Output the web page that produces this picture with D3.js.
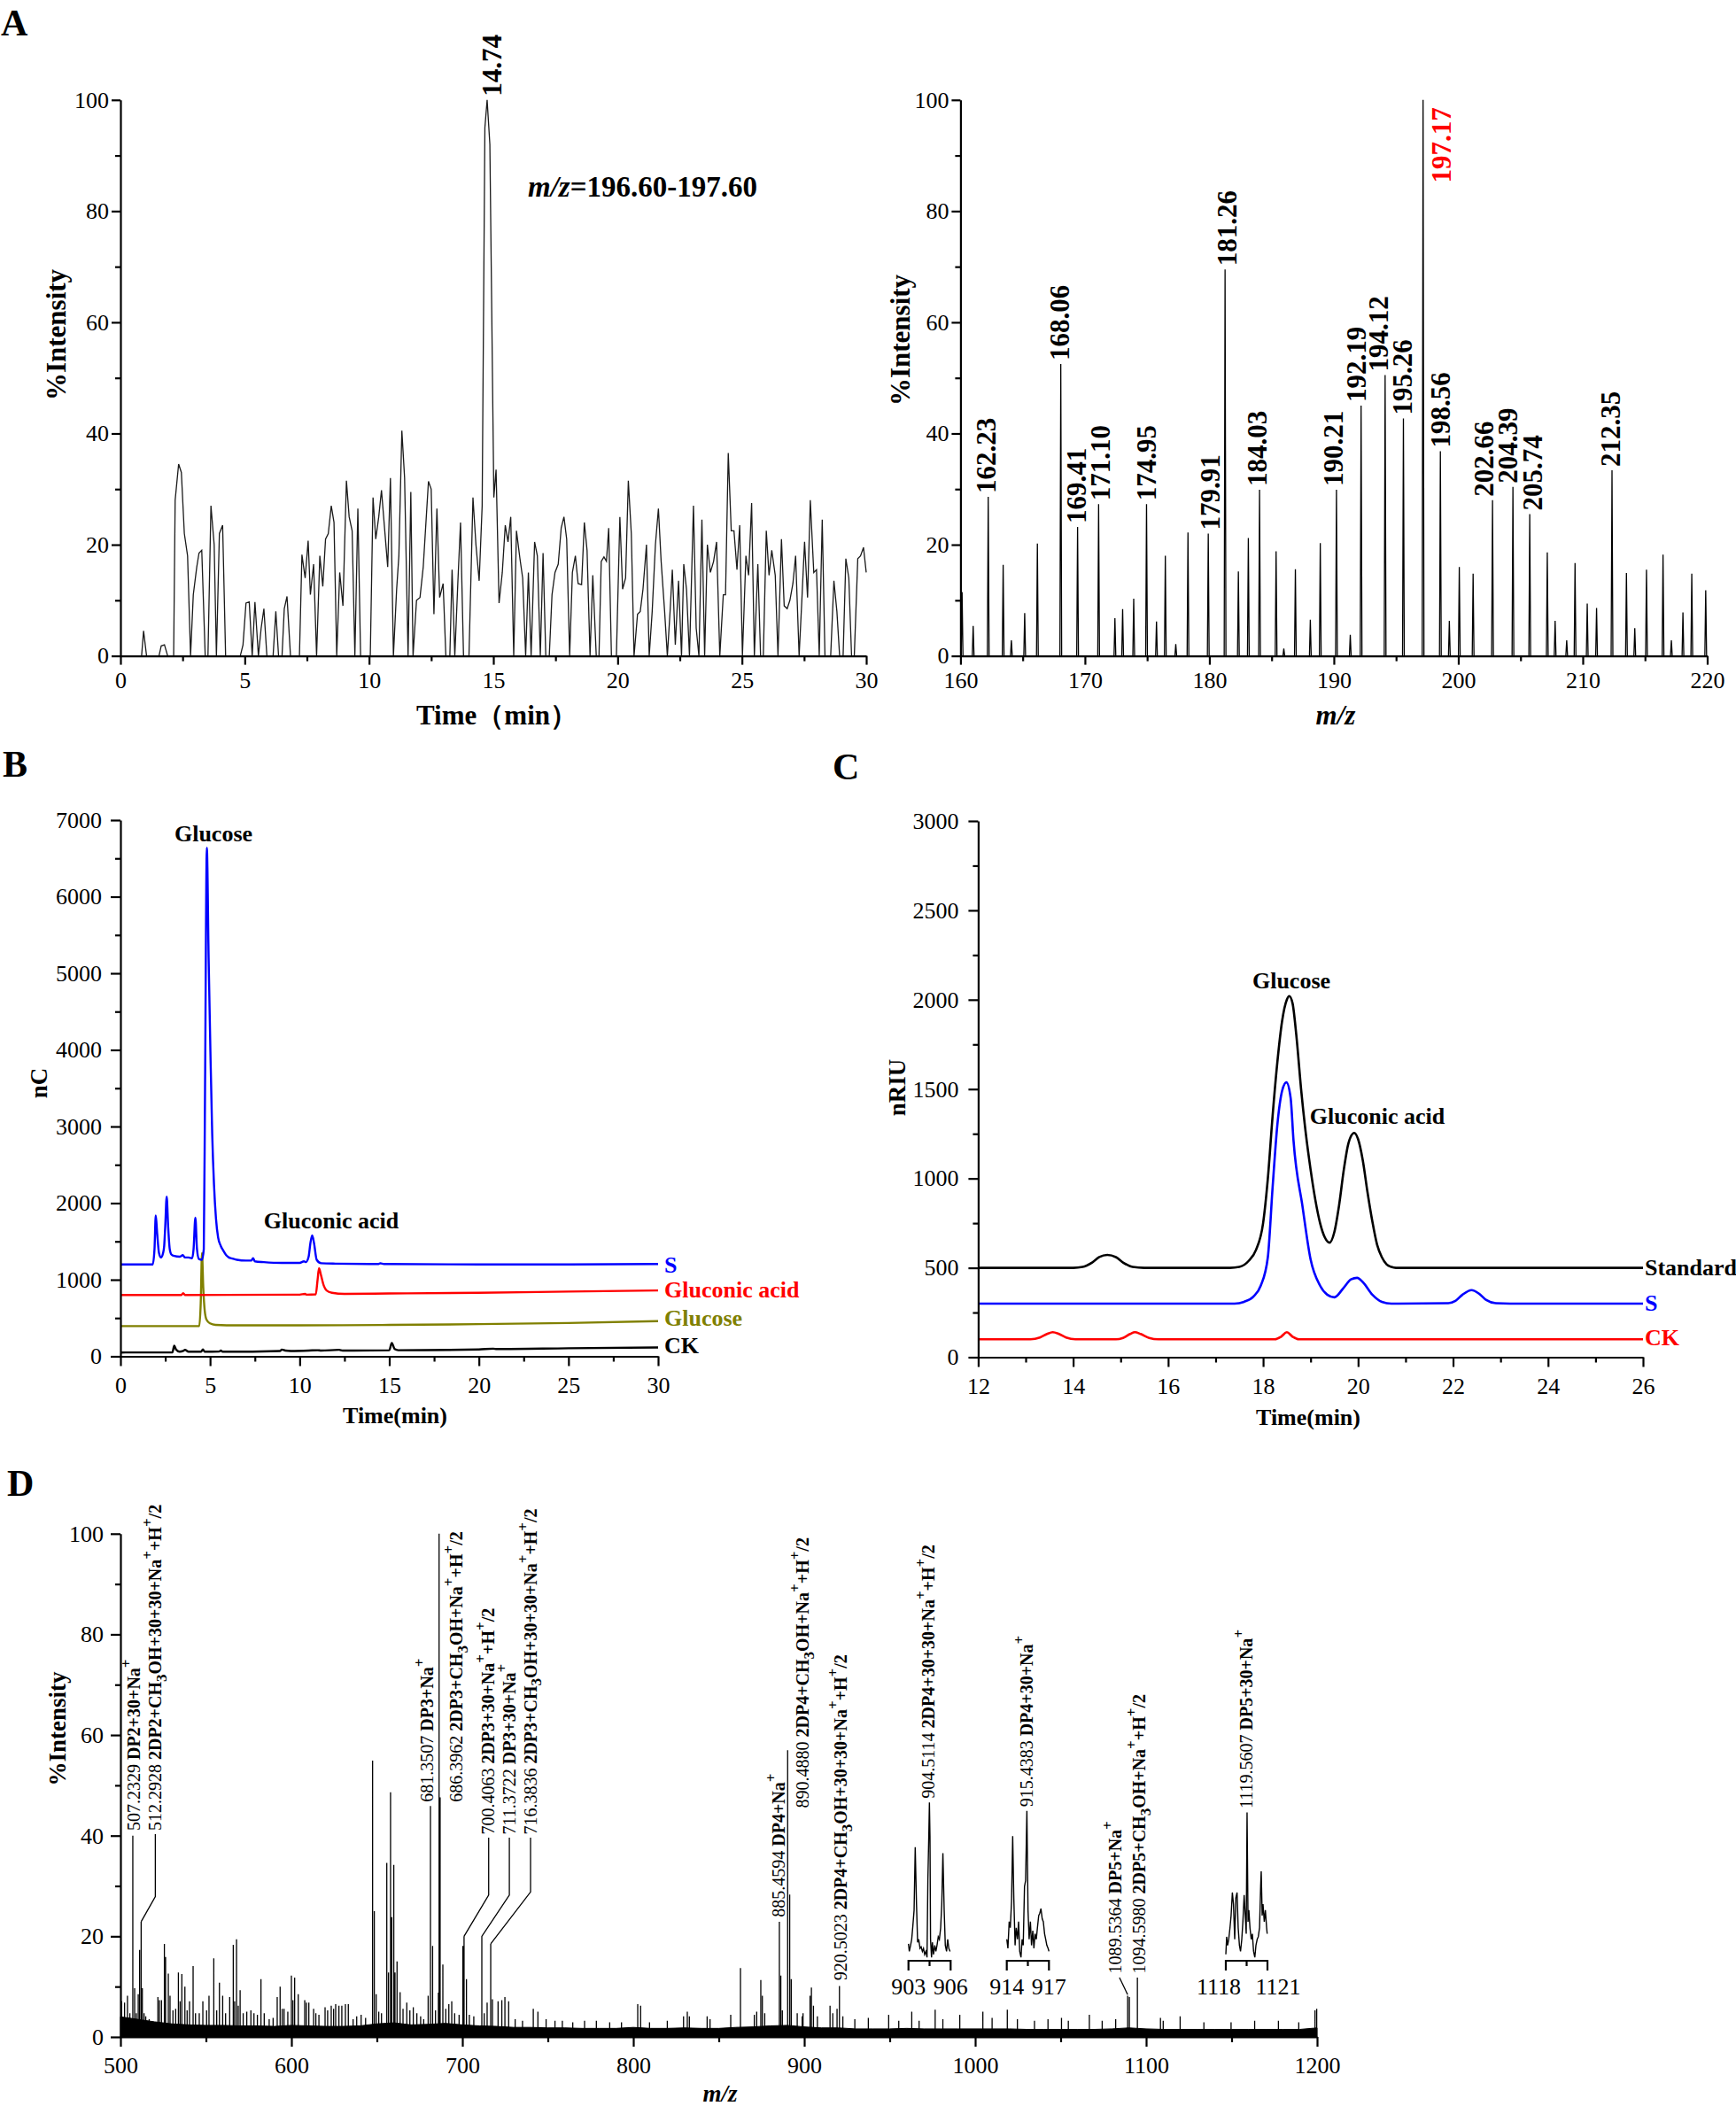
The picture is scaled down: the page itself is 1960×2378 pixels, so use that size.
<!DOCTYPE html>
<html><head><meta charset="utf-8">
<script src="https://cdn.jsdelivr.net/npm/d3@7"></script>
<style>
body{margin:0;background:#fff}
svg{display:block}
svg text{font-family:"Liberation Serif","Times New Roman",serif !important;white-space:pre}
</style></head><body>
<svg id="fig" width="1960" height="2378"></svg>
<script>
// ---------------- DATA ----------------
// Panel A (left): extracted ion chromatogram, [time(min), %intensity]
const eic = [[0,0],[0.85,0],[0.93,4.5],[1.05,0],[1.55,0],[1.64,1.8],[1.77,2],[1.9,0],[2.14,0],[2.2,28],[2.34,34.5],[2.45,33],[2.57,22],[2.7,18],[2.82,0],[2.93,11],[3.07,16],[3.16,18.5],[3.27,19],[3.41,0],[3.52,0],[3.64,27],[3.77,20],[3.86,0],[3.98,22],[4.11,23.5],[4.23,0],[4.82,0],[4.93,2],[5.05,9.5],[5.18,9.7],[5.3,0],[5.41,9.7],[5.55,0],[5.66,5],[5.77,8.5],[5.89,0],[6.14,0],[6.25,8],[6.36,0],[6.5,0],[6.59,8.5],[6.7,10.7],[6.84,0],[7.2,0],[7.3,18.2],[7.43,14],[7.55,20.7],[7.64,11],[7.77,16.5],[7.89,0],[8.02,18],[8.14,12.5],[8.25,21],[8.36,22],[8.48,27],[8.59,24],[8.7,0],[8.82,15],[8.95,9],[9.09,31.5],[9.2,25],[9.32,22.5],[9.43,0],[9.55,26.5],[9.66,0],[10.05,0],[10.16,28.5],[10.27,21],[10.39,25],[10.5,29.8],[10.75,16],[10.86,32],[10.98,0],[11.11,12],[11.2,18],[11.32,40.5],[11.43,32],[11.57,0],[11.68,29.5],[11.77,0],[11.91,10],[12.05,10.5],[12.18,16],[12.39,31.4],[12.5,30],[12.61,7.5],[12.73,26.5],[12.84,10.5],[12.98,13],[13.09,0],[13.25,0],[13.34,15.5],[13.45,0],[13.57,13],[13.68,24],[13.8,0],[14.02,0],[14.18,28.5],[14.3,20],[14.43,13.5],[14.55,27],[14.66,95],[14.75,100],[14.86,92],[15.02,28.5],[15.11,33.5],[15.23,9.5],[15.36,15],[15.48,23.5],[15.59,20.5],[15.7,25],[15.82,0],[15.93,22.5],[16.07,17.5],[16.18,14],[16.3,0],[16.41,15],[16.52,0],[16.66,20.5],[16.77,18],[16.89,0],[17.0,18.5],[17.11,0],[17.25,0],[17.36,11],[17.48,15],[17.61,16.5],[17.73,23],[17.84,25],[17.95,21],[18.07,0],[18.18,15],[18.3,18],[18.41,13],[18.55,12.8],[18.66,24],[18.77,19],[18.89,0],[19.0,14.5],[19.14,0],[19.25,0],[19.34,17],[19.45,17.8],[19.55,17],[19.64,23],[19.75,0],[19.95,0],[20.09,25],[20.2,12],[20.32,14],[20.43,31.5],[20.55,22],[20.66,0],[20.8,7.5],[20.91,8],[21.02,12],[21.16,20],[21.27,0],[21.39,8],[21.52,20],[21.64,26.5],[21.75,17],[21.89,8],[22.0,0],[22.11,8],[22.2,15.5],[22.32,2],[22.45,13.5],[22.57,0],[22.66,16.5],[22.77,12],[22.89,0],[23.05,27],[23.16,5],[23.27,0],[23.39,24.5],[23.5,0],[23.61,20],[23.73,15],[23.86,17],[23.98,20.5],[24.11,0],[24.25,11],[24.34,11],[24.45,36.5],[24.57,22.5],[24.68,22.5],[24.8,15.5],[24.91,23.5],[25.02,0],[25.16,18],[25.27,14.5],[25.39,27.5],[25.5,0],[25.64,16.5],[25.75,0],[25.86,0],[25.98,22.5],[26.09,14.5],[26.2,19],[26.34,14.5],[26.45,0],[26.59,21],[26.7,9],[26.82,8.5],[26.93,10],[27.05,13],[27.16,18],[27.3,0],[27.41,10],[27.52,20.5],[27.64,10.5],[27.75,28],[27.89,15],[28.0,15.5],[28.11,0],[28.23,24.5],[28.34,0],[28.57,0],[28.7,13.5],[28.82,8],[28.93,0],[29.07,0],[29.18,17.5],[29.3,14],[29.41,0],[29.52,0],[29.66,17.5],[29.77,18],[29.89,19.5],[30.0,15]];

// Panel A (right): mass spectrum sticks [m/z, %intensity]
const msPeaks = [[160.13,11.5],[161.02,5.4],[162.23,28.6],[163.43,16.4],[164.09,2.8],[165.16,7.7],[166.18,20.2],[168.06,52.5],[169.41,23.2],[171.10,27.3],[172.41,6.8],[173.03,8.4],[173.92,10.3],[174.95,27.3],[175.75,6.2],[176.46,18],[177.30,2.1],[178.28,22.2],[179.91,22],[181.26,69.5],[182.33,15.2],[183.13,21.2],[184.03,29.9],[185.36,18.8],[185.98,1.3],[186.91,15.6],[188.11,6.5],[188.91,20.3],[190.21,29.9],[191.32,3.8],[192.19,45],[194.12,50.5],[195.59,42.7],[197.17,100],[198.56,36.8],[199.28,6.3],[200.08,16],[201.19,14.8],[202.75,28],[204.39,30.4],[205.74,25.5],[207.15,18.6],[207.78,6.3],[208.71,2.8],[209.38,16.7],[210.36,9.4],[211.11,8.6],[212.35,33.4],[213.51,14.9],[214.18,5],[215.12,15.5],[216.45,18.2],[217.12,2.8],[218.05,7.8],[218.76,14.8],[219.88,11.8]];
// labelled sticks: [stick m/z, label text]
const msLabels = [[162.23,"162.23"],[168.06,"168.06"],[169.41,"169.41"],[171.10,"171.10"],[174.95,"174.95"],[179.91,"179.91"],[181.26,"181.26"],[184.03,"184.03"],[190.21,"190.21"],[192.19,"192.19"],[194.12,"194.12"],[195.59,"195.26"],[197.17,"197.17"],[198.56,"198.56"],[202.75,"202.66"],[204.39,"204.39"],[205.74,"205.74"],[212.35,"212.35"]];

// Panel B: HPAEC-PAD traces [time(min), nC]
const bS = [[0,1200],[1.8,1200],[1.9,1400],[1.97,1840],[2.05,1600],[2.15,1350],[2.26,1290],[2.38,1350],[2.44,1440],[2.5,1700],[2.58,2085],[2.66,1700],[2.75,1400],[2.84,1330],[3.0,1310],[3.3,1300],[3.48,1320],[3.6,1290],[3.8,1290],[4.0,1280],[4.08,1400],[4.18,1810],[4.27,1400],[4.38,1270],[4.55,1260],[4.65,1400],[4.72,3500],[4.82,6640],[4.92,5200],[5.02,3970],[5.12,2900],[5.22,2240],[5.33,1800],[5.45,1550],[5.6,1440],[5.74,1380],[5.9,1320],[6.05,1290],[6.2,1280],[6.5,1260],[7.0,1250],[7.3,1250],[7.4,1280],[7.5,1240],[8.0,1230],[9.0,1220],[10.0,1220],[10.24,1240],[10.35,1230],[10.5,1300],[10.6,1480],[10.7,1580],[10.8,1480],[10.95,1260],[11.2,1215],[12,1210],[14.4,1205],[14.5,1215],[14.7,1205],[20,1200],[25,1200],[30,1205]];
const bGluconic = [[0,800],[3.4,800],[3.5,825],[3.6,800],[10,805],[10.3,815],[10.4,805],[10.9,810],[11.0,1000],[11.08,1150],[11.2,1050],[11.35,920],[11.5,860],[11.8,830],[12.5,815],[15,820],[20,830],[25,845],[30,860]];
const bGlucose = [[0,395],[4.4,395],[4.48,700],[4.55,1350],[4.62,900],[4.7,600],[4.8,480],[5.0,430],[5.3,410],[6,405],[10,405],[15,410],[20,420],[25,435],[30,460]];
const bCK = [[0,50],[2.9,52],[3.0,140],[3.1,90],[3.3,60],[3.5,70],[3.6,85],[3.8,60],[4.5,60],[4.6,90],[4.7,60],[5.5,62],[5.6,75],[5.7,60],[8.9,70],[9.0,88],[9.2,75],[9.5,70],[10.5,75],[11,80],[11.2,75],[12.2,85],[12.4,75],[15.0,80],[15.14,175],[15.3,95],[15.5,80],[20,90],[20.8,100],[21,95],[25,105],[30,115]];

// Panel C: HPLC-RID traces [time(min), nRIU]
const cStd = [[12,500],[14.0,500],[14.2,505],[14.4,530],[14.55,560],[14.72,572],[14.9,560],[15.05,530],[15.25,505],[15.5,500],[17.3,500],[17.5,505],[17.7,540],[17.85,600],[18.0,750],[18.1,1000],[18.2,1350],[18.3,1650],[18.4,1880],[18.5,2000],[18.55,2020],[18.62,1980],[18.7,1800],[18.8,1500],[18.9,1250],[19.0,1050],[19.1,880],[19.2,750],[19.3,670],[19.4,641],[19.5,700],[19.6,850],[19.7,1050],[19.8,1200],[19.92,1255],[20.0,1220],[20.1,1100],[20.2,920],[20.3,760],[20.4,630],[20.5,560],[20.6,520],[20.7,505],[20.8,500],[26,500]];
const cS = [[12,300],[17.4,300],[17.6,310],[17.8,340],[17.95,400],[18.1,560],[18.2,950],[18.3,1300],[18.4,1490],[18.49,1538],[18.58,1450],[18.64,1213],[18.83,843],[19.0,547],[19.2,400],[19.35,350],[19.5,335],[19.7,390],[19.85,435],[19.98,444],[20.1,420],[20.3,350],[20.5,310],[20.7,300],[21.9,302],[22.05,315],[22.2,350],[22.39,375],[22.55,355],[22.7,320],[22.9,302],[23.2,300],[26,300]];
const cCK = [[12,100],[13.1,100],[13.3,110],[13.45,130],[13.57,140],[13.7,130],[13.85,110],[14.05,100],[14.9,100],[15.05,108],[15.2,130],[15.3,140],[15.42,130],[15.6,108],[15.8,100],[18.25,100],[18.38,115],[18.5,140],[18.62,115],[18.75,100],[26,100]];

// Panel D: ESI-MS spectrum sticks [m/z, %intensity]
const dPeaks = [[500.7,7.1],[502.4,6.8],[504.1,8.2],[505.5,4.7],[507.23,40],[508.3,9.7],[509.3,4.7],[510.4,8.5],[511.2,17.3],[512.1,22.9],[512.8,9.7],[513.8,4.7],[514.8,4.1],[516.8,3.5],[521.9,7.9],[522.8,7.3],[524.0,7.3],[525.7,18.5],[526.4,15.9],[528.0,12.6],[529.0,8.2],[530.7,5.3],[532.3,5.6],[533.9,12.8],[534.9,7.1],[535.9,12.5],[537.7,10],[539.0,5.3],[540.4,7.1],[542.5,14.1],[543.9,4.7],[546.1,4.7],[548.2,7.1],[550.4,5.3],[551.8,8.2],[554.6,15.6],[556.3,5.3],[557.9,10.8],[559.8,8.2],[561.5,4.7],[563.9,7.9],[566.0,18.3],[566.8,7.1],[567.9,19.4],[568.9,6.2],[570.0,9.3],[571.8,4.7],[573.9,5],[576.3,5.3],[578.1,4.7],[580.1,4.4],[582.2,11.5],[584.1,4.7],[587.0,3.5],[589.3,3.8],[591.7,7.9],[593.4,10],[594.6,5.6],[595.7,5.6],[597.9,5],[600.0,12.2],[600.9,7.3],[601.9,11.8],[604.0,8.5],[607.8,7.3],[608.8,6.8],[610.2,6.8],[613.0,5.6],[614.3,4.7],[616.1,4.4],[619.7,5.9],[621.2,5.3],[623.3,6.2],[624.7,5.6],[625.9,6.5],[627.8,6.2],[629.5,6.2],[631.6,6.5],[633.3,6.5],[636.1,3.5],[638.2,4.1],[640.8,4.4],[643.4,3.8],[647.5,54.9],[648.5,25],[649.6,8.5],[651.1,5],[652.7,4.7],[655.8,34.6],[656.8,12.8],[658.0,48.6],[658.7,23.8],[659.9,34.2],[660.6,12.8],[661.8,15],[663.6,8.9],[665.3,5.6],[667.5,6.8],[669.3,5.3],[671.3,5.9],[673.4,4.7],[675.6,4.1],[677.4,3.5],[680.0,8.2],[681.35,45.9],[682.6,18.1],[684.3,5.3],[686.0,8.8],[686.4,100],[687.0,47.6],[688.6,14.4],[690.3,5.6],[692.1,6.5],[693.8,7.1],[695.5,4.7],[698.1,4.4],[700.3,18.1],[701.0,20],[702.4,11.5],[704.1,4.4],[706.7,4.1],[711.4,7.9],[712.8,4.7],[714.5,6.8],[716.6,18.5],[717.6,7.5],[720.9,7.1],[723.1,7.3],[724.9,7.9],[727.1,7.1],[730.9,3.5],[735.2,3.2],[741.5,5.6],[744.2,5],[749.0,3.5],[754.2,3.2],[758.5,3.2],[764.6,2.9],[771.5,3.2],[778.4,3.2],[786.2,2.9],[793.1,2.9],[802.6,6.5],[804.3,6.2],[809.5,2.9],[819.9,3.2],[829.4,4.1],[831.6,5],[832.8,4.1],[843.2,4.1],[844.9,3.5],[857.0,4.4],[862.7,13.7],[870.8,4.4],[872.2,5],[874.6,11.3],[875.5,8.2],[876.9,4.7],[885.46,22.9],[886.3,12.2],[887.2,5.3],[890.3,57],[891.5,28.3],[892.4,11.5],[895.9,4.7],[898.8,4.1],[899.3,4.7],[903.4,8.2],[904.2,9.8],[905.4,6.2],[907.7,4.1],[915.1,6.2],[916.7,4.7],[919.2,5.6],[920.6,10.1],[922.6,4.1],[929.6,3.5],[937.5,3.8],[949.4,4.4],[955.3,3.2],[962.9,5],[967.2,3.2],[976.6,5.4],[981.1,3.5],[991.0,4.4],[1004.5,5],[1009.9,3.8],[1018.8,5.4],[1024.7,3.5],[1034.7,3.2],[1042.6,3.5],[1050.5,3.8],[1054.5,3.2],[1066.8,4.4],[1074.3,3.2],[1082.2,3.5],[1089.2,8.2],[1090.2,7.9],[1094.9,11.8],[1108.4,3.8],[1110.0,3.2],[1119.9,4.1],[1133.8,2.9],[1149.7,2.9],[1163.5,3.2],[1177.4,3.2],[1189.3,2.9],[1198.8,5.3],[1199.8,5.6]];
// dense noise floor envelope [m/z, %intensity]
const dNoise = [[500,4],[510,3.5],[520,3],[530,2.6],[540,2.4],[550,2.3],[560,2.3],[570,2.2],[580,2.2],[590,2.1],[600,2.3],[610,2.2],[620,2.1],[630,2.1],[640,2.2],[650,2.6],[660,2.8],[670,2.4],[680,2.5],[690,2.7],[700,2.4],[710,2.2],[720,2.1],[730,1.9],[740,1.9],[750,1.8],[760,1.8],[770,1.7],[780,1.7],[790,1.7],[800,1.9],[810,1.7],[820,1.7],[830,1.8],[840,1.7],[850,1.7],[860,1.9],[870,2.0],[880,2.2],[890,2.3],[900,2.0],[910,1.8],[920,1.8],[930,1.6],[940,1.6],[950,1.6],[960,1.7],[970,1.6],[980,1.6],[990,1.6],[1000,1.6],[1010,1.6],[1020,1.6],[1030,1.5],[1040,1.5],[1050,1.5],[1060,1.5],[1070,1.5],[1080,1.6],[1090,1.8],[1100,1.6],[1110,1.5],[1120,1.5],[1130,1.5],[1140,1.5],[1150,1.5],[1160,1.5],[1170,1.5],[1180,1.5],[1190,1.5],[1200,1.8]];
// zoom insets
const inset1 = [[903.00,18.5],[903.06,17.0],[903.15,18.2],[903.23,19.4],[903.31,22],[903.40,25.2],[903.48,37.7],[903.57,26.4],[903.65,18.8],[903.73,19.4],[903.82,17.6],[903.90,17.9],[903.99,17.0],[904.07,17.6],[904.15,16.4],[904.24,17.0],[904.32,15.8],[904.38,31.1],[904.45,40.5],[904.49,46.6],[904.53,39.9],[904.57,19.4],[904.64,15.8],[904.70,18.8],[904.78,16.4],[904.87,18.2],[904.95,17.0],[905.03,18.2],[905.12,19.9],[905.20,19.4],[905.29,21.7],[905.37,26.4],[905.45,36.5],[905.54,25.2],[905.62,18.2],[905.71,17.0],[905.79,19.4],[905.87,17.6],[905.96,17.0]];
const inset2 = [[914.00,19.4],[914.08,17.6],[914.17,22.9],[914.25,21.7],[914.34,27.0],[914.42,39.9],[914.50,27.6],[914.59,18.2],[914.67,21.7],[914.76,19.4],[914.84,22.9],[914.92,17.0],[915.01,15.8],[915.09,19.4],[915.17,18.2],[915.26,29.9],[915.34,31.1],[915.43,44.9],[915.51,25.2],[915.59,19.4],[915.68,22.9],[915.76,18.2],[915.85,21.1],[915.93,17.6],[916.01,20.5],[916.10,19.4],[916.18,21.7],[916.27,24.1],[916.35,24.6],[916.43,25.5],[916.52,23.5],[916.60,22.9],[916.69,20.5],[916.77,19.4],[916.85,18.2],[916.94,17.6],[917.00,17.0]];
const inset3 = [[1118.00,16.4],[1118.06,19.9],[1118.13,18.2],[1118.21,19.4],[1118.30,21.7],[1118.38,24.1],[1118.47,28.7],[1118.55,26.4],[1118.64,19.4],[1118.72,27.6],[1118.81,28.7],[1118.89,21.7],[1118.98,18.2],[1119.06,17.0],[1119.15,19.4],[1119.23,22.9],[1119.32,28.2],[1119.40,24.1],[1119.47,20.5],[1119.53,44.6],[1119.60,22.9],[1119.66,25.2],[1119.74,21.7],[1119.83,19.4],[1119.91,20.5],[1120.00,17.0],[1120.09,15.8],[1120.17,18.2],[1120.26,19.4],[1120.34,19.9],[1120.43,21.7],[1120.51,29.9],[1120.55,32.9],[1120.62,24.1],[1120.68,26.4],[1120.77,22.9],[1120.85,25.2],[1120.94,21.7],[1120.98,20.5]];
// peak annotations [number, formula]  (^x superscript, _x subscript)
const dLabelText = [
 ["507.2329","DP2+30+Na^+"],
 ["512.2928","2DP2+CH_3OH+30+30+Na^++H^+/2"],
 ["681.3507","DP3+Na^+"],
 ["686.3962","2DP3+CH_3OH+Na^++H^+/2"],
 ["700.4063","2DP3+30+Na^++H^+/2"],
 ["711.3722","DP3+30+Na^+"],
 ["716.3836","2DP3+CH_3OH+30+30+Na^++H^+/2"],
 ["885.4594","DP4+Na^+"],
 ["890.4880","2DP4+CH_3OH+Na^++H^+/2"],
 ["920.5023","2DP4+CH_3OH+30+30+Na^++H^+/2"],
 ["904.5114","2DP4+30+30+Na^++H^+/2"],
 ["915.4383","DP4+30+Na^+"],
 ["1089.5364","DP5+Na^+"],
 ["1094.5980","2DP5+CH_3OH+Na^++H^+/2"],
 ["1119.5607","DP5+30+Na^+"]
];

// ---------------- DRAWING ----------------
const SERIF = '"Liberation Serif","Times New Roman",serif';
const svg = d3.select("#fig");
svg.append("rect").attr("width",1960).attr("height",2378).attr("fill","#fff");

function axes(g, x, y, o){
  const fs = o.fs || 26;
  const style = s => { s.attr("font-family",SERIF).attr("font-size",fs);
    s.selectAll("text").style("font-family",SERIF).style("font-size",fs+"px");
    s.selectAll("line,path").attr("stroke","#000").attr("stroke-width",2.2); };
  const y0 = y.range()[0], x0 = x.range()[0];
  g.append("g").attr("transform",`translate(0,${y0})`)
    .call(d3.axisBottom(x).tickValues(o.xMinor).tickSize(o.minor).tickFormat(""))
    .call(s=>s.select(".domain").remove()).call(style);
  g.append("g").attr("transform",`translate(${x0},0)`)
    .call(d3.axisLeft(y).tickValues(o.yMinor).tickSize(o.minor).tickFormat(""))
    .call(s=>s.select(".domain").remove()).call(style);
  g.append("g").attr("transform",`translate(0,${y0})`)
    .call(d3.axisBottom(x).tickValues(o.xMajor).tickSize(o.major).tickSizeOuter(0).tickPadding(o.xPad).tickFormat(d=>d))
    .call(style);
  g.append("g").attr("transform",`translate(${x0},0)`)
    .call(d3.axisLeft(y).tickValues(o.yMajor).tickSize(o.major).tickSizeOuter(0).tickPadding(o.yPad).tickFormat(d=>d))
    .call(style);
}
function title(g, txt, x, y, fs, rot, italic){
  const t = g.append("text").attr("font-family",SERIF).attr("font-weight","bold")
    .attr("font-size",fs).attr("text-anchor","middle");
  if(rot){ t.attr("transform",`translate(${x},${y}) rotate(-90)`).attr("dy","0.33em"); }
  else { t.attr("x",x).attr("y",y); }
  if(italic) t.attr("font-style","italic");
  t.text(txt);
  return t;
}
function letter(txt,x,y){
  svg.append("text").attr("x",x).attr("y",y).attr("font-family",SERIF)
    .attr("font-weight","bold").attr("font-size",42).text(txt);
}
const range = (a,b,s) => d3.range(a,b+s/2,s);

// ===== Panel A left =====
{
  const g = svg.append("g");
  const x = d3.scaleLinear([0,30],[136,978]);
  const y = d3.scaleLinear([0,100],[740.6,112.8]);
  g.append("path").datum(eic)
    .attr("d", d3.line().x(d=>x(d[0])).y(d=>y(d[1])))
    .attr("fill","none").attr("stroke","#1a1a1a").attr("stroke-width",1.3);
  axes(g,x,y,{xMajor:range(0,30,5),xMinor:range(2.5,27.5,5),yMajor:range(0,100,20),yMinor:range(10,90,20),
    major:10,minor:6,xPad:8,yPad:3});
  title(g,"%Intensity",64,378,31,true);
  title(g,"Time（min）",561,818,31,false);
  g.append("text").attr("transform",`translate(${x(14.75)+5},${y(100)-4}) rotate(-90)`)
    .attr("dy","0.35em").attr("font-family",SERIF).attr("font-weight","bold").attr("font-size",31).text("14.74");
  const t = g.append("text").attr("x",596).attr("y",222).attr("font-family",SERIF)
    .attr("font-weight","bold").attr("font-size",33);
  t.append("tspan").attr("font-style","italic").text("m/z");
  t.append("tspan").text("=196.60-197.60");
  letter("A",1,40);
}

// ===== Panel A right =====
{
  const g = svg.append("g");
  const x = d3.scaleLinear([160,220],[1084.4,1927.5]);
  const y = d3.scaleLinear([0,100],[740.6,112.8]);
  g.selectAll("path.stick").data(msPeaks).join("path").attr("class","stick")
    .attr("d", d=>`M${x(d[0]-0.07)},${y(0)}L${x(d[0])},${y(d[1])}L${x(d[0]+0.07)},${y(0)}`)
    .attr("fill","none").attr("stroke","#000").attr("stroke-width",1.3);
  axes(g,x,y,{xMajor:range(160,220,10),xMinor:range(165,215,10),yMajor:range(0,100,20),yMinor:range(10,90,20),
    major:10,minor:6,xPad:8,yPad:3});
  const dx = {"162.23":-3,"168.06":-2,"169.41":-1,"171.10":2,"174.95":0,"179.91":2,"181.26":2,"184.03":-3,
    "190.21":-4,"192.19":-6,"194.12":-8,"195.26":-1,"197.17":20,"198.56":0,"202.66":-10,"204.39":-6,"205.74":3,"212.35":-2};
  const hmap = new Map(msPeaks.map(d=>[d[0],d[1]]));
  msLabels.forEach(([m,txt])=>{
    const h = hmap.get(m);
    const by = txt==="197.17" ? 206.5 : y(h)-4;
    g.append("text").attr("transform",`translate(${x(m)+dx[txt]},${by}) rotate(-90)`)
      .attr("dy","0.35em").attr("font-family",SERIF).attr("font-weight","bold").attr("font-size",31)
      .attr("fill", txt==="197.17" ? "#ff0000" : "#000").text(txt);
  });
  title(g,"%Intensity",1017,384,31,true);
  title(g,"m/z",1508,818,31,false,true);
}

// ===== Panel B =====
{
  const g = svg.append("g");
  const x = d3.scaleLinear([0,30],[136,743]);
  const y = d3.scaleLinear([0,7000],[1531.5,926]);
  const line = d3.line().x(d=>x(d[0])).y(d=>y(d[1])).curve(d3.curveMonotoneX);
  [[bCK,"#000"],[bGlucose,"#808000"],[bGluconic,"#ff0000"],[bS,"#0000ff"]].forEach(([data,c])=>{
    g.append("path").datum(data).attr("d",line).attr("fill","none").attr("stroke",c).attr("stroke-width",2.4);
  });
  axes(g,x,y,{xMajor:range(0,30,5),xMinor:range(2.5,27.5,5),yMajor:range(0,7000,1000),yMinor:range(500,6500,1000),
    major:11,minor:6,xPad:12,yPad:10,fs:26});
  title(g,"nC",44,1223,27,true);
  title(g,"Time(min)",446,1607,26,false);
  title(g,"Glucose",241,950,26,false);
  title(g,"Gluconic acid",374,1387,26,false);
  const lab = (t,yy,c)=>g.append("text").attr("x",750).attr("y",yy).attr("font-family",SERIF)
    .attr("font-weight","bold").attr("font-size",26).attr("fill",c).text(t);
  lab("S",1437,"#0000ff"); lab("Gluconic acid",1465,"#ff0000"); lab("Glucose",1497,"#808000"); lab("CK",1528,"#000");
  letter("B",3,877);
}

// ===== Panel C =====
{
  const g = svg.append("g");
  const x = d3.scaleLinear([12,26],[1104.4,1855]);
  const y = d3.scaleLinear([0,3000],[1532.5,927]);
  const line = d3.line().x(d=>x(d[0])).y(d=>y(d[1])).curve(d3.curveMonotoneX);
  [[cCK,"#ff0000"],[cS,"#0000ff"],[cStd,"#000"]].forEach(([data,c])=>{
    g.append("path").datum(data).attr("d",line).attr("fill","none").attr("stroke",c).attr("stroke-width",2.6);
  });
  axes(g,x,y,{xMajor:range(12,26,2),xMinor:range(13,25,2),yMajor:range(0,3000,500),yMinor:range(250,2750,500),
    major:11,minor:6,xPad:12,yPad:11,fs:26});
  title(g,"nRIU",1013,1228,27,true);
  title(g,"Time(min)",1477,1609,26,false);
  title(g,"Glucose",1458,1116,26,false);
  title(g,"Gluconic acid",1555,1269,26,false);
  const lab = (t,yy,c)=>g.append("text").attr("x",1857).attr("y",yy).attr("font-family",SERIF)
    .attr("font-weight","bold").attr("font-size",26).attr("fill",c).text(t);
  lab("Standard",1440,"#000"); lab("S",1480,"#0000ff"); lab("CK",1519,"#ff0000");
  letter("C",940,880);
}

// ===== Panel D =====
{
  const g = svg.append("g");
  const x = d3.scaleLinear([500,1200],[136,1487]);
  const y = d3.scaleLinear([0,100],[2300,1731.8]);
  g.append("path").datum(dNoise)
    .attr("d", d3.area().x(d=>x(d[0])).y0(y(0)).y1(d=>y(d[1])))
    .attr("fill","#000").attr("stroke","#000").attr("stroke-width",1);
  g.append("path")
    .attr("d", dPeaks.map(d=>`M${x(d[0])},${y(0)}V${y(d[1])}`).join(""))
    .attr("fill","none").attr("stroke","#000").attr("stroke-width",1.3);
  axes(g,x,y,{xMajor:range(500,1200,100),xMinor:range(550,1150,100),yMajor:range(0,100,20),yMinor:range(10,90,20),
    major:11,minor:6,xPad:12,yPad:8,fs:26});
  title(g,"%Intensity",65,1952,27,true);
  title(g,"m/z",813,2373,27,false,true);
  letter("D",8,1689);

  // insets
  const insets = [
    {data:inset1, dom:[903,906], px:[1025.7,1073.3], mid:904.5, ldx:[0,0]},
    {data:inset2, dom:[914,917], px:[1136.7,1184.3], mid:915.5, ldx:[0,0]},
    {data:inset3, dom:[1118,1121], px:[1384,1431], mid:1119.5, ldx:[-8,12]}
  ];
  const insetScales = [];
  insets.forEach(ins=>{
    const xs = d3.scaleLinear(ins.dom, ins.px);
    insetScales.push(xs);
    g.append("path").datum(ins.data).attr("d", d3.line().x(d=>xs(d[0])).y(d=>y(d[1])))
      .attr("fill","none").attr("stroke","#000").attr("stroke-width",1.4);
    const ay = 2214;
    g.append("path").attr("d",`M${ins.px[0]},${ay+11}V${ay}H${ins.px[1]}V${ay+11}M${xs(ins.mid)},${ay}V${ay+6}`)
      .attr("fill","none").attr("stroke","#000").attr("stroke-width",2.2);
    ins.dom.forEach((v,i)=>{
      g.append("text").attr("x",xs(v)+ins.ldx[i]).attr("y",2252).attr("text-anchor","middle")
        .attr("font-family",SERIF).attr("font-size",26).text(v);
    });
  });

  // label layout: column (px), bottom (%), leader points
  const L = [
    {col:x(508.1), bot:41},
    {col:x(520.6), bot:41, leader:[[512.1,22.9],[520.4,27.9],[520.4,40.3]]},
    {col:x(679.6), bot:46.7},
    {col:x(696.7), bot:46.7},
    {col:x(715.4), bot:40.2, leader:[[701.0,20],[715.4,28.2],[715.4,39.6]]},
    {col:x(727.5), bot:40.2, leader:[[711.4,7.9],[711.4,20],[727.5,28.2],[727.5,39.6]]},
    {col:x(739.9), bot:40.2, leader:[[716.6,18.5],[739.9,28.8],[739.9,39.6]]},
    {col:x(885.0), bot:23.8},
    {col:x(899.3), bot:45.5},
    {col:x(921.4), bot:11.2},
    {col:insetScales[0](904.49)-1, bot:47.4},
    {col:insetScales[1](915.43), bot:45.7},
    {col:x(1082.3), bot:12.6, leader:[[1089.2,8.4],[1084.4,11.8]]},
    {col:x(1096.2), bot:12.6},
    {col:insetScales[2](1119.53)-1, bot:45.4}
  ];
  const fs = 20;
  dLabelText.forEach(([num,formula],i)=>{
    const l = L[i];
    if(l.leader){
      g.append("path").attr("d", d3.line().x(d=>x(d[0])).y(d=>y(d[1]))(l.leader))
        .attr("fill","none").attr("stroke","#000").attr("stroke-width",1.3);
    }
    const t = g.append("text").attr("transform",`translate(${l.col+0.33*fs},${y(l.bot)}) rotate(-90)`)
      .attr("font-family",SERIF).attr("font-size",fs);
    t.append("tspan").text(num+" ");
    let buf="", pending=0;
    const flush=()=>{ if(buf){ const s=t.append("tspan").attr("font-weight","bold").text(buf);
        if(pending){ s.attr("dy",pending); pending=0; } buf=""; } };
    for(let k=0;k<formula.length;k++){
      const c = formula[k];
      if(c==="^"||c==="_"){
        flush();
        const sh = c==="^" ? -0.5*fs : 0.28*fs;
        t.append("tspan").attr("font-weight","bold").attr("font-size",fs*0.85)
          .attr("dy", sh+pending).text(formula[k+1]);
        pending = -sh; k++;
      } else buf += c;
    }
    flush();
  });
}
</script>
</body></html>
